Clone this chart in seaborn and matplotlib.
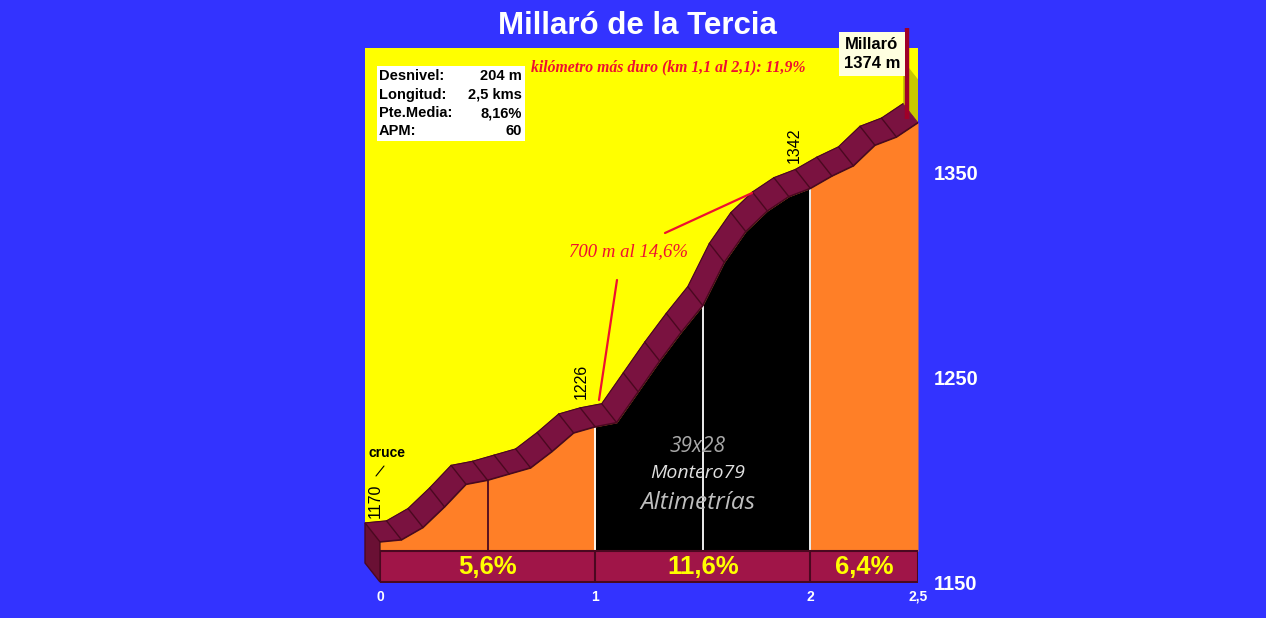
import numpy as np
import matplotlib.pyplot as plt
from matplotlib.patches import Polygon, Rectangle
import seaborn as sns

# -----------------------------
# DATA
# -----------------------------
km = [0.0, 0.1, 0.2, 0.3, 0.4, 0.5, 0.6, 0.7, 0.8, 0.9, 1.0, 1.1, 1.2,
      1.3, 1.4, 1.5, 1.6, 1.7, 1.8, 1.9, 2.0, 2.1, 2.2, 2.3, 2.4, 2.5]
elev = [1170, 1171, 1177, 1187, 1198, 1200, 1203, 1206, 1214, 1223, 1226,
        1228, 1243, 1258, 1272, 1285, 1306, 1321, 1331, 1338, 1342, 1348,
        1353, 1363, 1367, 1374]

sector_edges = [0, 1, 2, 2.5]
sector_pct = ['5,6%', '11,6%', '6,4%']
sector_color = ['#FF7F27', '#000000', '#FF7F27']
divider_km = [0.5, 1.0, 1.5, 2.0]

y_ticks = [1150, 1250, 1350]
x_ticks = [0, 1, 2, 2.5]
x_ticklabels = ['0', '1', '2', '2,5']

info_labels = ['Desnivel:', 'Longitud:', 'Pte.Media:', 'APM:']
info_values = ['204 m', '2,5 kms', '8,16%', '60']

point_km = [0, 1, 2]
point_elev = [1170, 1226, 1342]

title = 'Millaró de la Tercia'
summit = 'Millaró\n1374 m'
hardest_km = 'kilómetro más duro (km 1,1 al 2,1): 11,9%'
steep_note = '700 m al 14,6%'

# -----------------------------
# STYLE
# -----------------------------
sns.set_style('white')
plt.rcParams['font.family'] = ['Liberation Sans', 'DejaVu Sans']

W, H = 1266, 618
BLUE = '#3333FF'
YELLOW = '#FFFF00'
BAND = '#7A1240'
BAND_DARK = '#4A0820'
FLOOR = '#A01548'
SIDE = '#6A1034'
RED = '#EE1030'

# pixel layout of the plotting box
X0, X1 = 380, 918          # km 0 .. 2.5
Y_BASE, PX_PER_M = 583, 2.055
Y_TOP = 48
ymax = 1150 + (Y_BASE - Y_TOP) / PX_PER_M
px_per_km = (X1 - X0) / 2.5

# 3D depth offset in data units
dx = -15 / px_per_km
dy = 19 / PX_PER_M


def to_data(px, py):
    return (px - X0) / px_per_km, 1150 + (Y_BASE - py) / PX_PER_M


fig = plt.figure(figsize=(W / 100, H / 100), dpi=100, facecolor=BLUE)
ax = fig.add_axes([X0 / W, (H - Y_BASE) / H, (X1 - X0) / W, (Y_BASE - Y_TOP) / H])
ax.set_facecolor('none')
ax.set_xlim(0, 2.5)
ax.set_ylim(1150, ymax)
for s in ax.spines.values():
    s.set_visible(False)

x = np.array(km)
y = np.array(elev, dtype=float)
floor_top = 1165.5
floor_bot = 1150.5

# back wall
ax.add_patch(Rectangle((dx, floor_bot + dy), 2.5 - dx, ymax - floor_bot - dy,
                       fc=YELLOW, ec='none', zorder=0, clip_on=False))
ax.add_patch(Polygon([(2.5 + dx, ymax - 6), (2.5, ymax - 6 - dy), (2.5, y[-1]),
                      (2.5 + dx, y[-1] + dy)], closed=True,
                     fc='#C8C800', ec='none', zorder=0.5, clip_on=False))

# gradient fills per kilometre
sectors = list(zip(sector_edges[:-1], sector_edges[1:]))
for (a, b), col in zip(sectors, sector_color):
    m = (x >= a - 1e-9) & (x <= b + 1e-9)
    ax.fill_between(x[m], floor_top, y[m], color=col, lw=0, zorder=2)

# vertical dividers every 500 m
for d in divider_km:
    e = np.interp(d, x, y)
    black = any(a <= d <= b for (a, b), c in zip(sectors, sector_color) if c == '#000000')
    ax.plot([d, d], [floor_top, e], color='white' if black else BAND_DARK,
            lw=1.3, zorder=3)
ax.plot([1, 2], [floor_top, floor_top], color='white', lw=1.3, zorder=3)

# road band (top surface of the profile)
for i in range(len(x) - 1):
    pts = [(x[i], y[i]), (x[i + 1], y[i + 1]),
           (x[i + 1] + dx, y[i + 1] + dy), (x[i] + dx, y[i] + dy)]
    ax.add_patch(Polygon(pts, closed=True, fc=BAND, ec=BAND, lw=0.6,
                         zorder=4, clip_on=False))
for i in range(1, len(x) - 1):
    ax.plot([x[i], x[i] + dx], [y[i], y[i] + dy], color=BAND_DARK, lw=1,
            zorder=4.5, clip_on=False)
sns.lineplot(x=x, y=y, ax=ax, color=BAND_DARK, lw=1.2, zorder=4.6)
ax.plot(x + dx, y + dy, color=BAND_DARK, lw=0.8, zorder=4.6, clip_on=False)

# floor band with percentages
ax.add_patch(Rectangle((0, floor_bot), 2.5, floor_top - floor_bot, fc=FLOOR,
                       ec=BAND_DARK, lw=1.5, zorder=4))
for e in sector_edges[1:-1]:
    ax.plot([e, e], [floor_bot, floor_top], color=BAND_DARK, lw=1.5, zorder=4.5)
for (a, b), t in zip(sectors, sector_pct):
    ax.text((a + b) / 2, (floor_bot + floor_top) / 2 - 0.3, t, ha='center',
            va='center', color=YELLOW, fontsize=18.5, fontweight='bold',
            zorder=6)

# left side panel
ax.add_patch(Polygon([(dx, y[0] + dy), (0, y[0]), (0, floor_bot),
                      (dx, floor_bot + dy)], closed=True, fc=SIDE,
                     ec=BAND_DARK, lw=1, zorder=4, clip_on=False))

# summit flag
pole_x, _ = to_data(907, 0)
ax.plot([pole_x, pole_x], [to_data(0, 28)[1], y[-1] + 2], color='#A00028',
        lw=3.2, zorder=5, clip_on=False, solid_capstyle='butt')
sx, sy = to_data(872, 54)
ax.text(sx, sy, summit, ha='center', va='center', fontsize=12,
        fontweight='bold', color='black', linespacing=1.4, zorder=6,
        bbox=dict(boxstyle='square,pad=0.3', fc='#FFFFE0', ec='none'))

# elevation labels (rotated)
offsets = [(-5, 41), (-14, 45), (-16, 43)]
for k, e, (ox, oy) in zip(point_km, point_elev, offsets):
    ax.annotate(str(e), (k, e), xytext=(ox, oy), textcoords='offset pixels',
                rotation=90, ha='center', va='center', fontsize=11.5,
                color='black', zorder=6, annotation_clip=False)

cx, cy = to_data(387, 453)
ax.text(cx, cy, 'cruce', ha='center', va='center', fontsize=10,
        fontweight='bold', color='black', zorder=6, clip_on=False)
p1, p2 = to_data(376, 476), to_data(384, 466)
ax.plot([p1[0], p2[0]], [p1[1], p2[1]], color='black', lw=0.8, zorder=6,
        clip_on=False)

# steep section note
serif = ['Liberation Serif', 'DejaVu Serif']
nx, ny = to_data(628, 252)
ax.text(nx, ny, steep_note, ha='center', va='center', fontsize=13.5,
        style='italic', color=RED, family=serif, zorder=6)
for (ax_, ay_), (bx_, by_) in [((617, 280), (599, 400)), ((665, 233), (752, 193))]:
    a, b = to_data(ax_, ay_), to_data(bx_, by_)
    ax.plot([a[0], b[0]], [a[1], b[1]], color=RED, lw=1.6, zorder=6)

hx, hy = to_data(668, 67)
ax.text(hx, hy, hardest_km, ha='center', va='center', fontsize=11.3,
        style='italic', fontweight='bold', color=RED, family=serif,
        zorder=6)

# watermark
wm_font = ['Open Sans', 'DejaVu Sans']
for txt, py, fs, col in [('39x28', 447, 15, '#A8A8A8'),
                         ('Montero79', 473, 14, '#E0E0E0'),
                         ('Altimetrías', 503, 17.5, '#BEBEBE')]:
    wx, wy = to_data(698, py)
    ax.text(wx, wy, txt, ha='center', va='center', fontsize=fs, style='italic',
            color=col, family=wm_font, zorder=6)

# info box
fig.patches.append(Rectangle((377 / W, 1 - 141 / H), 148 / W, 75 / H,
                             transform=fig.transFigure, fc='white', ec='none',
                             zorder=5))
for i, (lab, val) in enumerate(zip(info_labels, info_values)):
    py = 76 + i * 18.5
    fig.text(379 / W, 1 - py / H, lab, ha='left', va='center', fontsize=10.5,
             fontweight='bold', color='black', zorder=6)
    fig.text(522 / W, 1 - py / H, val, ha='right', va='center', fontsize=10.5,
             fontweight='bold', color='black', zorder=6)

# title
fig.text(637 / W, 1 - 26 / H, title, ha='center', va='center', fontsize=22.5,
         fontweight='bold', color='white')

# axes ticks
ax.yaxis.tick_right()
ax.set_yticks(y_ticks)
ax.set_yticklabels([str(t) for t in y_ticks])
ax.set_xticks(x_ticks)
ax.set_xticklabels(x_ticklabels)
ax.tick_params(axis='y', length=0, pad=11, labelsize=14.5, labelcolor='white')
ax.tick_params(axis='x', length=0, pad=5, labelsize=10, labelcolor='white')
for t in ax.get_yticklabels() + ax.get_xticklabels():
    t.set_fontweight('bold')
ax.set_xlabel('')
ax.set_ylabel('')

fig.savefig('out.png', dpi=100, facecolor=BLUE)
